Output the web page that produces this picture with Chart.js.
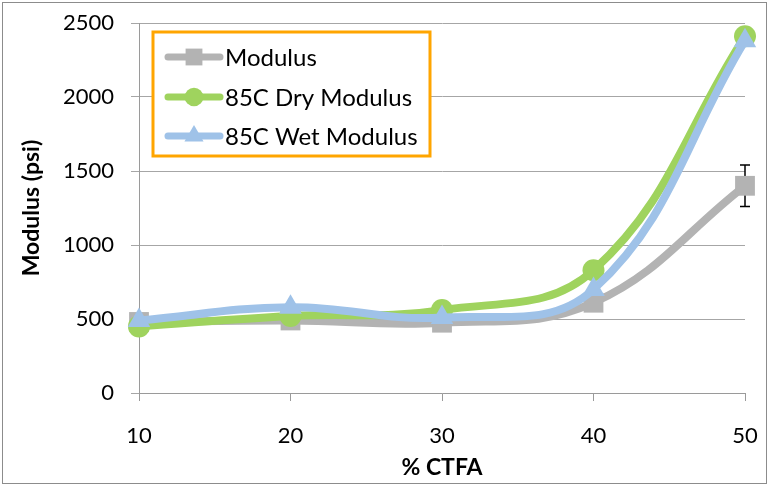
<!DOCTYPE html>
<html>
<head>
<meta charset="utf-8">
<script src="https://cdn.jsdelivr.net/npm/chart.js@4"></script>
<style>
  body { margin: 0; background: #fff; }
  #wrap { width: 769px; height: 487px; position: relative; }
</style>
</head>
<body>
<div id="wrap"><canvas id="chart"></canvas></div>
<script>
// data
const ctfa = ['10', '20', '30', '40', '50'];
const modulus = [480, 490, 475, 610, 1400];
const modulusErr = [0, 0, 0, 0, 140];
const dryModulus = [450, 520, 560, 830, 2410];
const wetModulus = [490, 580, 510, 700, 2380];
const yTicks = [0, 500, 1000, 1500, 2000, 2500];

const FONT = 'Lato, "Open Sans", sans-serif';
const grayC = '#b3b3b3';
const greenC = '#9fd35e';
const blueC = '#9fc2e8';

// error bars under the markers
const errorBars = {
    id: 'errorBars',
    beforeDatasetsDraw(chart) {
        const ctx = chart.ctx;
        const x = chart.scales.x, y = chart.scales.y;
        ctx.save();
        ctx.strokeStyle = '#000';
        ctx.lineWidth = 1.5;
        modulusErr.forEach(function (e, i) {
            if (!e) return;
            const px = x.getPixelForValue(i);
            const top = y.getPixelForValue(modulus[i] + e);
            const bot = y.getPixelForValue(modulus[i] - e);
            ctx.beginPath();
            ctx.moveTo(px, top); ctx.lineTo(px, bot);
            ctx.moveTo(px - 5, top); ctx.lineTo(px + 5, top);
            ctx.moveTo(px - 5, bot); ctx.lineTo(px + 5, bot);
            ctx.stroke();
        });
        ctx.restore();
    }
};

// legend box inside the plot + outer frame
const boxLegend = {
    id: 'boxLegend',
    afterDraw(chart) {
        const ctx = chart.ctx;
        ctx.save();
        ctx.fillStyle = '#fff';
        ctx.fillRect(153, 32, 277, 124);
        ctx.strokeStyle = '#ffa500';
        ctx.lineWidth = 3;
        ctx.strokeRect(153, 32, 277, 124);
        const rows = [57, 97, 136];
        chart.data.datasets.forEach(function (ds, i) {
            const yy = rows[i];
            ctx.strokeStyle = ds.borderColor;
            ctx.lineWidth = 7;
            ctx.lineCap = 'round';
            ctx.beginPath();
            ctx.moveTo(168, yy); ctx.lineTo(220, yy);
            ctx.stroke();
            ctx.fillStyle = ds.pointBackgroundColor;
            Chart.helpers.drawPoint(ctx, {
                pointStyle: ds.pointStyle,
                radius: ds.pointRadius * 0.85,
                borderWidth: 0
            }, 194, yy);
            ctx.fillStyle = '#000';
            ctx.font = '24px ' + FONT;
            ctx.textBaseline = 'middle';
            ctx.fillText(ds.label, 225, yy + 1);
        });
        ctx.strokeStyle = '#8c8c8c';
        ctx.lineWidth = 1;
        ctx.strokeRect(2.5, 2.5, 764, 481);
        ctx.restore();
    }
};

function series(label, data, color, style, radius, order) {
    return {
        label: label,
        data: data,
        borderColor: color,
        backgroundColor: color,
        pointBackgroundColor: color,
        pointBorderColor: color,
        borderWidth: 8,
        pointStyle: style,
        pointRadius: radius,
        pointBorderWidth: 0,
        tension: 0.4,
        clip: false,
        order: order
    };
}

new Chart(document.getElementById('chart'), {
    type: 'line',
    data: {
        labels: ctfa,
        datasets: [
            series('Modulus', modulus, grayC, 'rect', 14, 3),
            series('85C Dry Modulus', dryModulus, greenC, 'circle', 11, 2),
            series('85C Wet Modulus', wetModulus, blueC, 'triangle', 13, 1)
        ]
    },
    plugins: [errorBars, boxLegend],
    options: {
        responsive: true,
        maintainAspectRatio: false,
        animation: false,
        layout: { padding: { top: 23, right: 24, left: 0, bottom: 0 } },
        plugins: { legend: { display: false }, tooltip: { enabled: false } },
        scales: {
            x: {
                offset: false,
                afterFit(s) { s.height = 94; s.paddingLeft = 0; s.paddingRight = 0; },
                grid: {
                    drawOnChartArea: false,
                    drawTicks: true,
                    tickLength: 8,
                    color: '#9a9a9a'
                },
                border: { color: '#9a9a9a', width: 1 },
                ticks: {
                    color: '#000',
                    font: { family: FONT, size: 22 },
                    padding: 22,
                    maxRotation: 0
                },
                title: {
                    display: true,
                    text: '% CTFA',
                    color: '#000',
                    font: { family: FONT, size: 23, weight: 'bold' },
                    padding: { top: 0, bottom: 6 }
                }
            },
            y: {
                min: 0,
                max: 2500,
                afterFit(s) { s.width = 139; s.paddingTop = 0; s.paddingBottom = 0; },
                afterBuildTicks(s) { s.ticks = yTicks.map(function (v) { return { value: v }; }); },
                grid: {
                    color: '#a6a6a6',
                    tickLength: 8,
                    lineWidth: 1
                },
                border: { color: '#9a9a9a', width: 1 },
                ticks: {
                    color: '#000',
                    font: { family: FONT, size: 22 },
                    padding: 17,
                    callback: function (v) { return String(v); }
                },
                title: {
                    display: true,
                    text: 'Modulus (psi)',
                    color: '#000',
                    font: { family: FONT, size: 23, weight: 'bold' },
                    padding: { top: 18, bottom: 0 }
                }
            }
        }
    }
});
</script>
</body>
</html>
